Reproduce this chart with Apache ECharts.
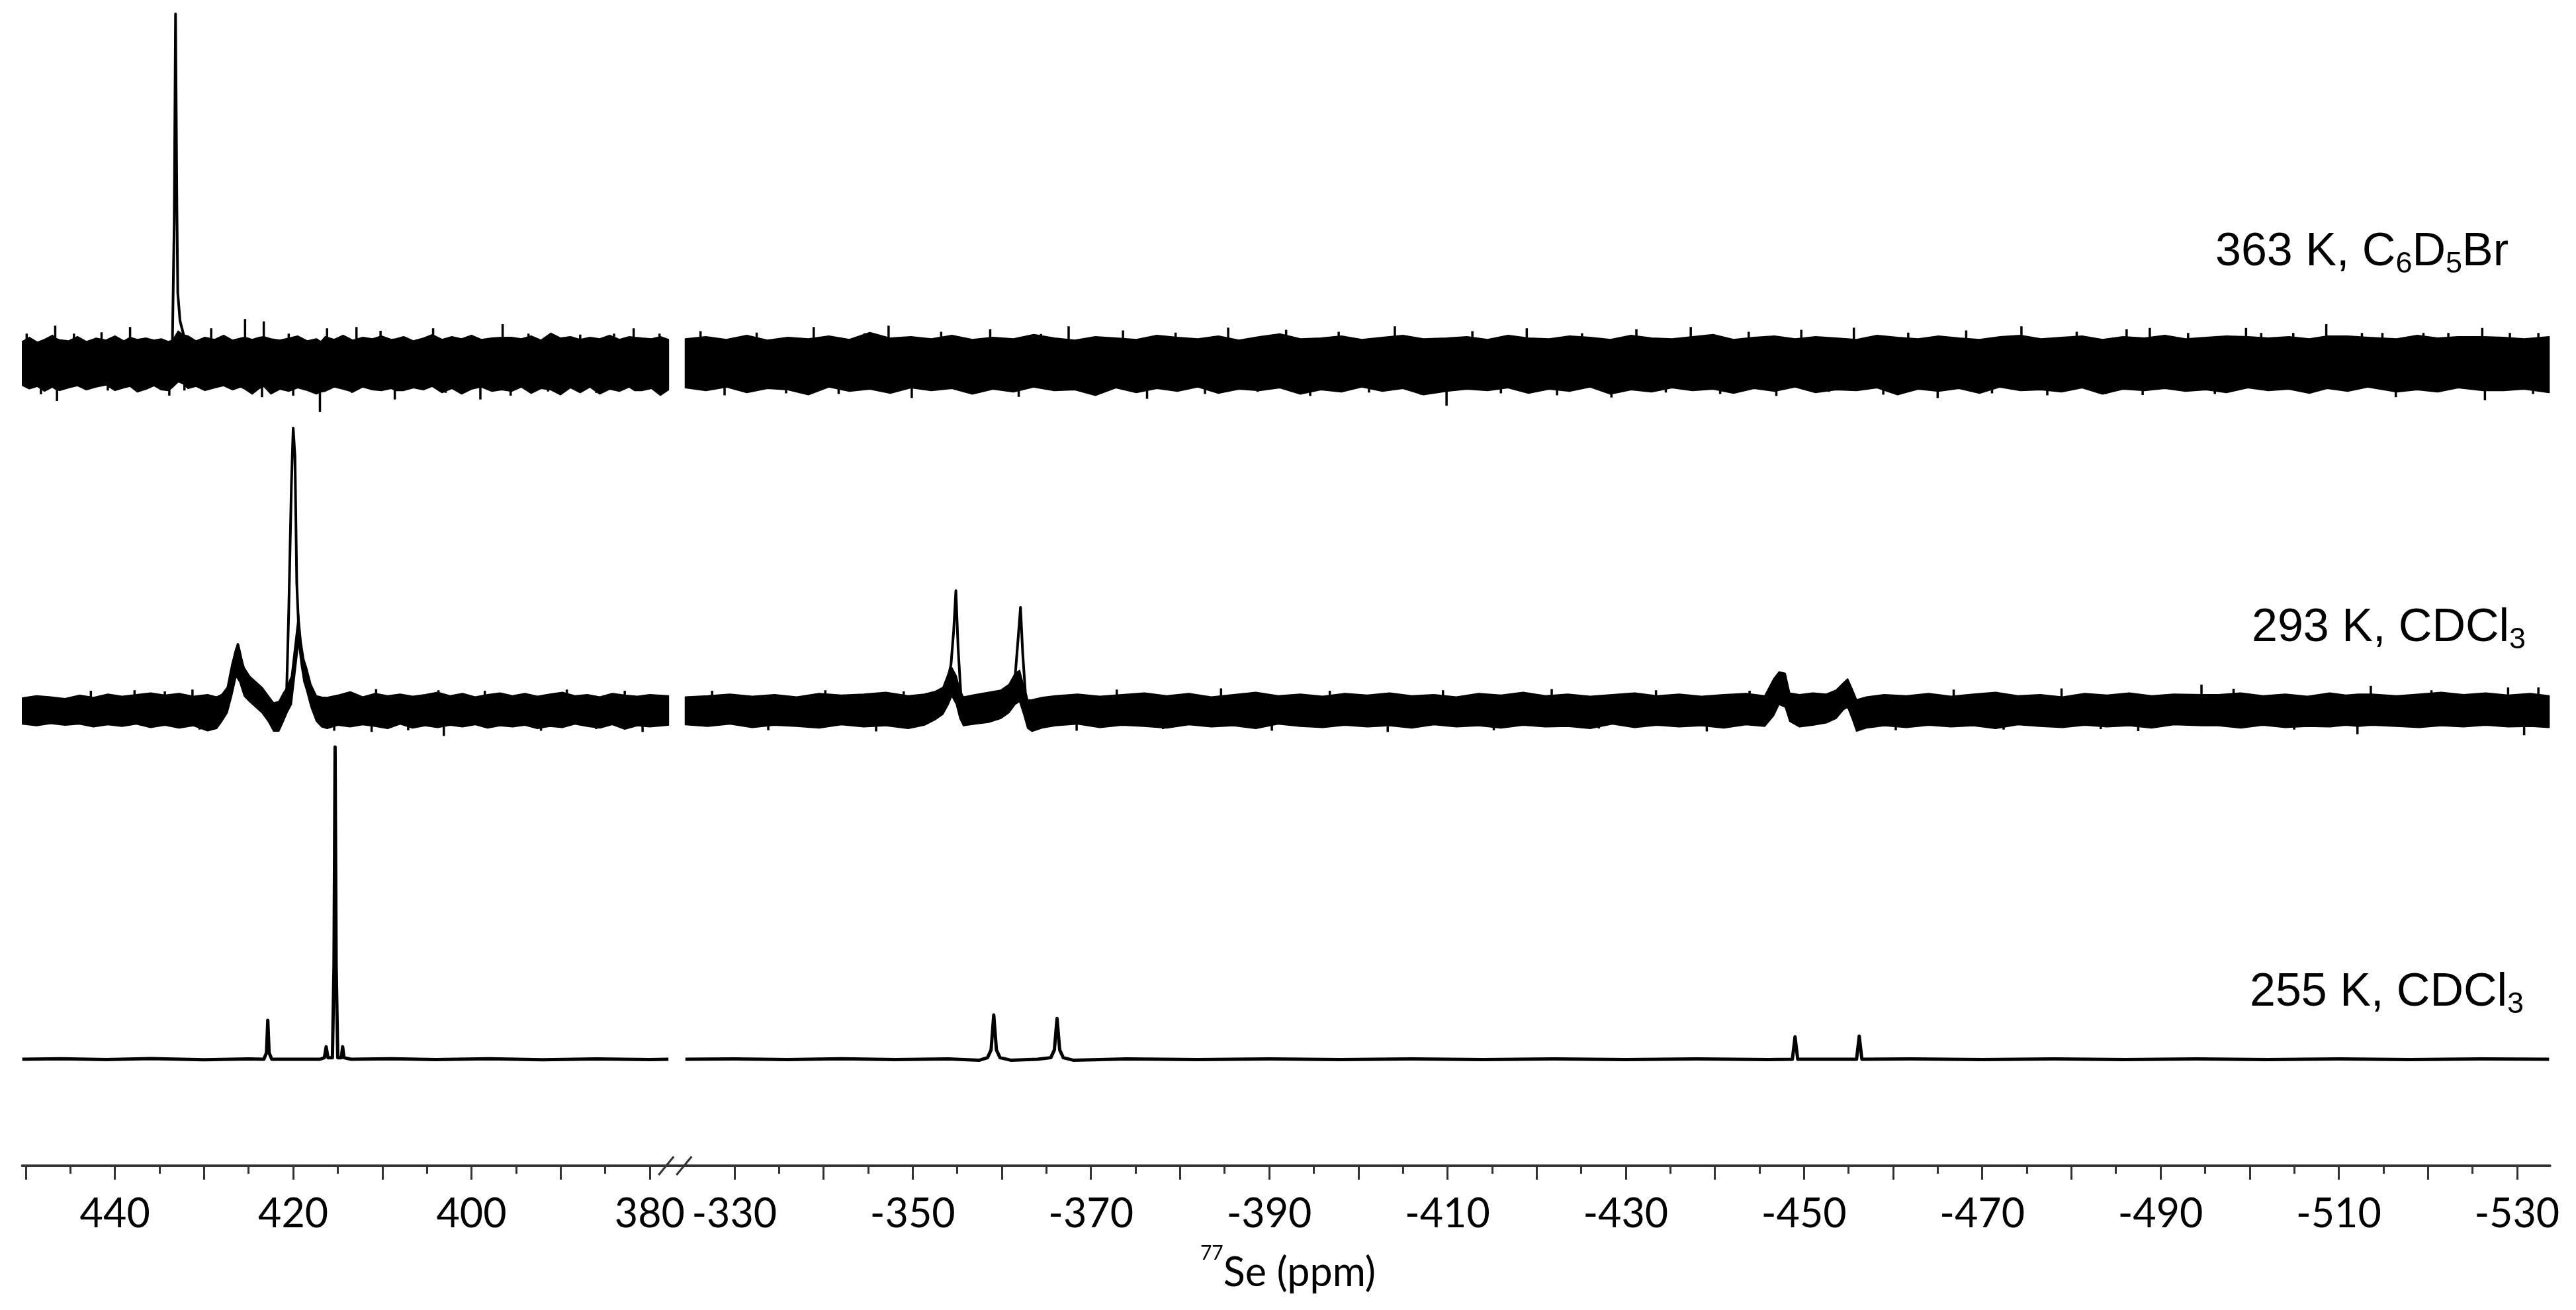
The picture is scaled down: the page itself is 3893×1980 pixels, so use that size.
<!DOCTYPE html>
<html>
<head>
<meta charset="utf-8">
<script src="https://cdn.jsdelivr.net/npm/echarts@6/dist/echarts.min.js"></script>
<style>
html,body{margin:0;padding:0;background:#fff;}
#c{width:3893px;height:1980px;}
</style>
</head>
<body>
<div id="c"></div>
<script>
// ---------------- DATA ----------------
// x axis (ppm), broken axis: left segment and right segment
const leftAxisRange = [377, 450.4];
const rightAxisRange = [-533.7, -323.5];
const leftTickLabels = [440, 420, 400, 380];
const rightTickLabels = [-330, -350, -370, -390, -410, -430, -450, -470, -490, -510, -530];
const leftMajorTicks = [450, 440, 430, 420, 410, 400, 390, 380];
const leftMinorTicks = [445, 435, 425, 415, 405, 395, 385];
const rightMajorTicks = [-330, -340, -350, -360, -370, -380, -390, -400, -410, -420, -430, -440, -450, -460, -470, -480, -490, -500, -510, -520, -530];
const rightMinorTicks = [-335, -345, -355, -365, -375, -385, -395, -405, -415, -425, -435, -445, -455, -465, -475, -485, -495, -505, -515, -525];

const spectrumLabels = ['363 K, C6D5Br', '293 K, CDCl3', '255 K, CDCl3'];
const axisTitle = '77Se (ppm)';

// Signal traces [ppm, intensity] (intensity: tallest peak of each spectrum = 100)
const topLeftSignal = [[450.4,0],[434.0,0],[433.55,6],[433.35,40],[433.2,100],[433.05,45],[432.95,20],[432.7,12],[432.3,8],[431.8,3],[431.2,0],[377.9,0]];
const topRightSignal = [[-324.5,0],[-533.6,0]];

const midLeftSignal = [[450.4,0],[428.6,0],[428.0,2],[427.4,5],[426.9,12],[426.5,20],[426.2,23.2],[425.9,19],[425.4,12],[424.9,9],[424.2,7],[423.5,4],[422.8,1],[422.2,-2],[421.6,-1.5],[421.1,2],[420.75,5],[420.5,35],[420.2,80],[420.0,100],[419.8,90],[419.6,45],[419.4,30],[419.1,20],[418.5,12],[418.0,5],[417.4,1],[416.8,0],[377.9,0]];
const midRightSignal = [[-324.5,0],[-351.3,0],[-353.0,3],[-353.8,9],[-354.3,16],[-354.6,28],[-354.85,42.3],[-355.1,22],[-355.4,6],[-355.8,0],[-358.0,1],[-360.0,4.5],[-361.0,7.5],[-361.5,12],[-361.85,26],[-362.1,36.4],[-362.35,20],[-362.65,6],[-363.2,-1.5],[-365.0,0],[-446.3,0],[-446.8,5],[-447.2,8.5],[-447.9,8.2],[-448.3,2],[-448.8,0],[-452.5,0],[-453.5,2],[-454.3,4.5],[-454.8,6.6],[-455.1,5],[-455.5,0],[-533.6,0]];

const botLeftSignal = [[450.4,0],[446,0.15],[441,-0.1],[436,0.2],[430,-0.15],[425,0.1],[423.3,0],[423.0,2],[422.85,12.5],[422.7,2],[422.4,0],[417.0,0],[416.5,0.5],[416.3,4],[416.1,0.5],[415.6,0.5],[415.42,30],[415.3,100],[415.18,30],[415.0,0.5],[414.6,0.5],[414.45,4],[414.3,0.5],[413.5,0],[409,0.15],[404,-0.1],[398,0.15],[392,-0.15],[386,0.1],[380,-0.1],[377.9,0]];
const botRightSignal = [[-324.5,0],[-330,0.1],[-336,-0.1],[-342,0.15],[-348,-0.1],[-354,0.1],[-357.5,-0.3],[-358.4,0.5],[-358.8,3],[-359.1,14.2],[-359.4,3],[-359.8,0.5],[-361,-0.3],[-364,0],[-365.5,0.5],[-365.9,3],[-366.2,13.1],[-366.5,3],[-366.9,0.5],[-368,-0.3],[-374,0.1],[-382,-0.1],[-390,0.1],[-398,-0.1],[-406,0.1],[-414,-0.1],[-422,0.1],[-430,-0.1],[-438,0.1],[-446,-0.1],[-448.7,0],[-449.0,7.2],[-449.3,0],[-455.9,0],[-456.2,7.4],[-456.5,0],[-462,0.1],[-470,-0.1],[-478,0.1],[-486,-0.1],[-494,0.1],[-502,-0.1],[-510,0.1],[-518,-0.1],[-526,0.1],[-533.6,0]];

// Noise envelopes [ppm, lower, upper]
const topLeftNoise = [[450.4,-6.5,6.0],[449.6,-7.5,7.2],[448.7,-6.8,5.8],[447.9,-8.2,6.6],[447.0,-7.0,7.8],[446.7,-7.6,7.0],[446.2,-8.0,6.5],[445.2,-7.2,6.2],[444.2,-6.6,7.4],[443.2,-7.8,6.0],[442.1,-7.0,7.0],[441.0,-6.4,6.4],[440.0,-8.0,7.6],[439.0,-7.2,6.2],[438.3,-6.8,7.2],[437.5,-8.4,6.6],[436.5,-7.6,7.0],[435.6,-6.6,6.4],[434.8,-7.8,6.8],[434.0,-8.0,6.0],[433.5,-7.0,6.5],[432.9,-5.5,9.0],[432.4,-6.0,8.0],[431.8,-7.4,7.6],[430.9,-6.8,6.2],[429.9,-8.0,7.2],[428.8,-7.2,6.6],[427.8,-6.6,7.8],[426.8,-7.8,6.4],[425.9,-7.0,7.0],[425.4,-7.6,7.2],[424.6,-9.0,6.6],[423.8,-7.4,7.2],[423.3,-6.8,7.4],[422.5,-9.0,6.8],[421.5,-7.6,6.4],[420.5,-8.2,7.0],[419.5,-7.2,7.6],[418.4,-8.0,6.2],[417.4,-9.0,6.8],[416.9,-8.4,6.0],[416.4,-8.2,7.4],[415.4,-7.0,6.6],[414.4,-7.6,7.8],[413.3,-8.4,6.4],[412.2,-7.0,7.2],[411.1,-7.8,6.8],[410.1,-8.0,7.6],[409.0,-7.4,6.6],[408.5,-8.0,6.8],[407.6,-8.0,7.4],[406.5,-7.2,6.2],[405.4,-7.8,7.0],[404.4,-6.8,8.0],[403.3,-8.6,6.6],[402.2,-7.4,7.4],[401.1,-9.0,6.8],[400.0,-7.6,7.8],[398.9,-7.0,6.6],[397.7,-8.2,7.0],[396.6,-7.8,7.2],[395.5,-8.2,7.2],[394.4,-7.0,6.8],[393.3,-8.8,7.6],[392.2,-7.4,6.4],[391.1,-7.8,8.4],[390.0,-9.2,7.0],[388.9,-7.2,7.4],[387.8,-8.6,6.6],[386.7,-7.0,7.2],[385.6,-9.0,6.8],[384.5,-7.6,7.8],[383.4,-8.2,6.6],[382.3,-7.0,7.4],[381.7,-8.0,7.2],[380.9,-8.0,7.0],[379.8,-7.4,6.8],[378.8,-9.4,7.4],[377.9,-7.8,6.6]];
const topRightNoise = [[-324.5,-7.2,6.8],[-326.8,-8.0,7.4],[-329.1,-7.0,6.6],[-331.4,-8.6,7.8],[-333.7,-7.4,6.4],[-336.0,-7.8,7.2],[-338.3,-9.2,6.8],[-340.6,-7.0,7.6],[-342.9,-8.2,6.6],[-345.2,-7.6,8.6],[-347.5,-8.8,7.0],[-349.8,-7.2,7.4],[-352.1,-8.0,6.8],[-354.4,-7.4,7.8],[-356.7,-9.0,6.6],[-359.0,-7.6,7.2],[-361.3,-8.4,6.8],[-363.6,-7.0,8.0],[-365.9,-8.0,7.0],[-368.2,-7.8,6.4],[-370.5,-9.4,7.4],[-372.8,-7.2,7.0],[-375.1,-8.6,6.6],[-377.4,-7.4,7.8],[-379.7,-8.2,7.2],[-382.0,-7.0,6.8],[-384.3,-8.8,7.6],[-386.6,-7.6,6.4],[-388.9,-8.0,7.4],[-391.2,-7.2,8.2],[-393.5,-9.0,6.8],[-395.8,-7.8,7.0],[-398.1,-8.4,7.6],[-400.4,-7.0,6.6],[-402.7,-8.2,7.2],[-405.0,-7.4,7.8],[-407.3,-9.2,6.8],[-409.9,-8.2,7.0],[-412.2,-7.6,7.4],[-414.5,-8.0,6.6],[-416.8,-7.2,7.8],[-419.1,-8.8,7.0],[-421.4,-7.6,6.8],[-423.7,-8.2,7.6],[-426.0,-7.0,7.2],[-428.3,-9.0,6.6],[-430.6,-7.8,7.8],[-432.9,-8.4,7.0],[-435.2,-7.2,6.8],[-437.5,-8.0,7.4],[-439.8,-7.6,8.0],[-442.1,-8.8,6.6],[-444.4,-7.4,7.2],[-446.7,-8.2,7.6],[-449.0,-7.0,6.8],[-451.3,-8.6,7.4],[-453.6,-7.8,7.0],[-455.9,-8.0,6.6],[-458.2,-7.2,7.8],[-460.5,-9.2,7.2],[-462.8,-7.6,6.8],[-465.1,-8.2,7.6],[-467.4,-7.4,7.0],[-469.7,-8.8,6.6],[-472.0,-7.0,7.4],[-474.3,-8.0,7.8],[-476.6,-7.8,6.8],[-478.9,-8.4,7.2],[-481.2,-7.2,7.6],[-483.5,-9.0,6.6],[-485.8,-7.6,7.4],[-488.2,-8.0,7.0],[-490.5,-7.4,7.8],[-492.8,-8.2,6.8],[-495.1,-7.8,7.2],[-497.4,-8.6,7.6],[-499.8,-7.2,7.4],[-502.1,-8.0,7.0],[-504.4,-7.6,7.4],[-506.7,-8.8,6.8],[-508.7,-7.4,7.6],[-511.0,-8.2,7.6],[-513.3,-7.0,7.2],[-516.5,-8.4,6.8],[-518.8,-7.8,7.8],[-521.1,-8.4,7.0],[-523.4,-7.2,7.4],[-526.2,-8.0,7.4],[-528.5,-8.0,7.2],[-530.8,-7.6,6.8],[-533.6,-8.6,7.4]];

const midLeftNoise = [[450.4,-5.0,4.2],[448.8,-5.6,5.0],[447.2,-4.8,4.6],[445.6,-5.4,4.0],[444.0,-5.0,5.2],[442.4,-6.0,4.4],[440.8,-5.2,5.6],[439.2,-5.8,4.8],[437.6,-5.0,5.4],[436.0,-6.2,6.0],[434.4,-5.4,5.2],[432.8,-6.4,5.8],[431.2,-5.6,4.8],[429.6,-7.4,5.4],[428.6,-6.6,4.6],[428.0,-4.0,5.5],[427.4,-1.0,8.0],[426.9,5.0,16.0],[426.4,12.0,22.0],[426.0,10.0,20.0],[425.5,5.0,15.0],[424.9,3.0,12.0],[424.2,1.0,10.0],[423.5,-1.0,8.0],[422.8,-4.0,5.0],[422.2,-7.5,2.5],[421.6,-7.5,3.0],[421.1,-4.0,6.0],[420.7,-1.0,8.0],[420.2,2.0,12.0],[419.4,24.0,34.0],[419.1,16.0,24.0],[418.8,10.0,18.0],[418.5,7.0,15.0],[418.0,1.0,9.0],[417.4,-4.0,5.0],[416.8,-6.0,4.5],[416.2,-6.6,4.4],[415.0,-5.4,5.2],[413.6,-6.0,6.4],[412.2,-5.2,4.6],[410.8,-5.8,5.8],[409.4,-6.6,5.0],[408.0,-5.0,5.6],[406.6,-6.4,4.8],[405.2,-5.6,5.4],[403.8,-6.2,6.2],[402.4,-5.4,5.0],[401.0,-6.0,5.8],[399.6,-5.2,4.6],[398.2,-6.4,5.4],[396.8,-5.6,6.0],[395.4,-6.0,5.0],[394.0,-5.4,5.8],[392.6,-6.6,4.8],[391.2,-5.8,5.6],[389.8,-6.2,6.2],[388.4,-5.0,5.0],[387.0,-5.8,5.4],[385.6,-6.4,4.6],[384.2,-5.2,5.8],[382.8,-6.8,5.2],[381.4,-5.6,4.8],[380.0,-6.0,5.4],[377.9,-5.4,5.0]];
const midRightNoise = [[-324.5,-5.2,4.6],[-327.0,-5.8,5.0],[-329.5,-5.0,5.6],[-332.0,-6.2,4.8],[-334.5,-5.4,5.4],[-337.0,-5.8,4.6],[-339.5,-6.4,5.8],[-342.0,-5.2,5.2],[-344.5,-6.0,5.6],[-347.0,-5.6,6.2],[-349.5,-6.6,5.0],[-351.3,-5.4,5.6],[-352.5,-3.5,6.5],[-353.4,-1.5,8.0],[-354.0,2.0,13.0],[-354.4,5.0,15.0],[-354.9,2.0,12.0],[-355.3,-3.0,7.0],[-355.7,-5.6,4.6],[-357.0,-5.0,5.4],[-358.5,-4.4,6.2],[-359.9,-3.0,7.0],[-360.8,-1.0,9.0],[-361.5,2.0,13.0],[-362.0,3.0,14.0],[-362.5,-2.0,8.0],[-362.9,-6.5,3.5],[-363.4,-7.6,3.6],[-364.5,-6.4,4.4],[-366.0,-5.6,5.0],[-368.5,-5.0,5.6],[-371.0,-6.2,4.8],[-373.5,-5.4,5.4],[-376.0,-5.8,6.0],[-378.5,-6.4,5.0],[-381.0,-5.2,5.8],[-383.5,-6.0,4.6],[-386.0,-5.6,5.4],[-388.5,-6.6,6.2],[-391.0,-5.0,5.0],[-393.5,-5.8,5.6],[-396.0,-6.2,4.8],[-398.5,-5.4,5.8],[-401.0,-6.0,5.2],[-403.5,-5.6,6.0],[-406.0,-6.4,5.0],[-408.5,-5.2,5.4],[-411.0,-6.0,4.6],[-413.5,-5.6,5.8],[-416.0,-6.4,5.2],[-418.5,-5.4,6.2],[-421.0,-6.0,5.0],[-423.5,-5.8,5.6],[-426.0,-6.6,4.8],[-428.5,-5.0,5.4],[-431.0,-6.2,6.0],[-433.5,-5.4,5.0],[-436.0,-6.0,5.6],[-438.5,-5.6,4.8],[-441.0,-6.4,5.4],[-443.5,-5.2,5.8],[-445.6,-5.8,5.0],[-446.6,-2.0,11.0],[-447.2,2.0,13.5],[-447.9,1.0,13.0],[-448.4,-4.0,6.0],[-449.5,-6.0,5.4],[-451.0,-5.4,6.0],[-452.5,-4.6,5.6],[-453.6,-3.0,7.0],[-454.4,0.0,9.5],[-454.9,1.0,11.0],[-455.4,-3.0,7.5],[-455.9,-7.5,3.6],[-457.0,-6.4,4.6],[-459.0,-5.6,5.4],[-461.5,-6.2,5.0],[-464.0,-5.4,5.8],[-466.5,-6.0,4.8],[-469.0,-5.6,5.6],[-471.5,-6.6,6.2],[-474.0,-5.2,5.0],[-476.5,-5.8,5.4],[-479.0,-6.2,4.6],[-481.5,-5.4,5.8],[-484.0,-6.0,5.2],[-486.5,-5.6,6.0],[-489.0,-6.4,5.0],[-491.5,-5.2,5.6],[-494.7,-5.6,5.4],[-496.5,-5.6,5.4],[-499.0,-6.4,6.0],[-501.5,-5.4,5.0],[-504.0,-6.2,5.6],[-506.5,-5.8,4.8],[-509.0,-6.0,6.0],[-510.8,-5.4,5.2],[-512.2,-5.8,5.6],[-513.7,-5.4,5.6],[-516.5,-5.8,5.0],[-519.0,-6.2,5.6],[-521.5,-5.6,6.2],[-524.0,-6.0,5.4],[-526.5,-5.4,6.0],[-529.0,-6.0,5.2],[-531.5,-5.8,5.8],[-533.6,-6.2,5.0]];

// Individual noise spikes [ppm, tip]
const topLeftSpikes = [[449.9,8.3],[446.7,10.6],[444.6,8.3],[441.5,8.7],[438.3,10.2],[429.2,9.8],[425.4,12.5],[423.3,11.8],[420.5,8.3],[416.2,9.8],[412.9,10.2],[410.2,9.1],[404.3,9.8],[396.5,11],[393.6,8.3],[387.8,8],[384.0,8.3],[381.8,9.8],[378.9,8.3],
  [448.3,-9.1],[446.5,-11],[440.8,-8],[433.9,-9.5],[432.2,-8],[423.5,-9.9],[420.0,-9.5],[417.0,-14.2],[413.4,-8.7],[408.6,-10.6],[402.9,-8.7],[399.0,-10.6],[395.6,-9.5],[391.4,-8.3],[386.0,-8.7],[380.2,-7.6]];
const topRightSpikes = [[-326.2,9.0],[-328.9,-9.4],[-332.5,8.6],[-335.8,-8.8],[-338.9,10.2],[-341.7,-9.0],[-344.6,8.4],[-347.3,10.6],[-349.9,-10.2],[-353.2,8.8],[-356.1,-8.6],[-358.7,9.6],[-361.9,-9.8],[-364.4,8.2],[-367.5,10.4],[-370.2,-8.8],[-373.6,9.2],[-376.3,-10.4],[-379.5,8.6],[-382.8,-9.0],[-385.4,10.0],[-388.7,-8.4],[-391.9,9.4],[-394.6,-9.6],[-397.8,8.8],[-401.2,-8.6],[-404.1,10.4],[-407.0,-9.2],[-409.9,-12.4],[-412.8,9.0],[-416.0,-8.8],[-418.9,9.8],[-422.3,-9.4],[-425.1,8.4],[-428.4,-10.0],[-431.2,9.6],[-434.5,-8.6],[-437.3,10.2],[-440.6,-9.0],[-443.8,8.8],[-446.9,-9.6],[-449.7,9.4],[-452.8,-8.4],[-455.6,10.0],[-458.9,-9.2],[-461.7,8.6],[-465.0,-10.2],[-468.2,9.2],[-471.1,-8.8],[-474.4,10.4],[-477.3,-9.4],[-480.6,8.8],[-483.9,-9.0],[-486.2,9.6],[-488.0,-9.3],[-488.8,9.9],[-493.1,8.5],[-496.1,-9.0],[-499.6,9.9],[-501.3,8.5],[-504.9,8.5],[-506.2,-7.5],[-508.6,11.0],[-512.6,8.5],[-514.9,8.5],[-516.4,-9.9],[-519.5,8.5],[-522.3,8.5],[-526.1,9.9],[-526.4,-10.8],[-529.2,8.5],[-531.8,-9.0],[-532.4,8.5]];
const midLeftSpikes = [[442.7,6.8],[437.8,7.0],[434.4,6.6],[431.3,7.2],[430.5,-7.0],[415.4,-7.4],[411.2,-7.8],[410.7,7.4],[407.1,-7.2],[403.7,7.0],[403.1,-9.2],[398.5,6.8],[392.2,-7.4],[389.3,7.2],[386.0,-6.8],[382.8,6.8],[380.8,-7.8]];
const midRightSpikes = [[-327.5,6.8],[-333.8,-7.2],[-340.2,7.0],[-345.9,-7.6],[-349.0,6.6],[-368.4,-7.4],[-372.9,7.2],[-378.1,-6.8],[-384.6,7.6],[-390.3,-7.4],[-396.8,6.8],[-403.3,-7.8],[-409.5,7.0],[-415.2,-7.2],[-421.7,7.4],[-427.0,-6.6],[-433.4,7.0],[-439.1,-7.6],[-443.9,6.8],[-460.3,-7.2],[-466.8,7.2],[-472.4,-7.0],[-478.9,7.6],[-483.3,-6.8],[-487.5,-7.5],[-494.6,9.0],[-498.2,7.5],[-505.0,-7.0],[-512.1,-8.6],[-513.6,8.5],[-520.4,7.0],[-529.0,8.0],[-530.8,-9.0],[-532.4,8.0]];

// ---------------- LAYOUT ----------------
const PX_PER_PPM = 13.47;
const AXIS_Y = 1762;
const LEFT_X0 = 33.6;
const leftW = (leftAxisRange[1] - leftAxisRange[0]) * PX_PER_PPM;
const rightX0 = LEFT_X0 + leftW;
const rightW = (rightAxisRange[1] - rightAxisRange[0]) * PX_PER_PPM;
const rows = [
  {base: 548, ppu: 5.27, ymin: -20, ymax: 103},
  {base: 1073, ppu: 4.26, ymin: -20, ymax: 103},
  {base: 1601, ppu: 4.72, ymin: null, ymax: 103}
];
rows[2].ymin = -(AXIS_Y - rows[2].base) / rows[2].ppu;

const signals = [[topLeftSignal, topRightSignal],[midLeftSignal, midRightSignal],[botLeftSignal, botRightSignal]];
const noises = [[topLeftNoise, topRightNoise],[midLeftNoise, midRightNoise],[null, null]];
const spikes = [[topLeftSpikes, topRightSpikes],[midLeftSpikes, midRightSpikes],[null, null]];

const grids = [], xAxes = [], yAxes = [], series = [];
const FONT_TICK = 'Lato';
function addGrid(r, s, axisMode) {
  const row = rows[r];
  const idx = grids.length;
  grids.push({
    left: s === 0 ? LEFT_X0 : rightX0,
    width: s === 0 ? leftW : rightW,
    top: row.base - row.ymax * row.ppu,
    height: (row.ymax - row.ymin) * row.ppu,
    containLabel: false,
    outerBoundsMode: 'none'
  });
  const range = s === 0 ? leftAxisRange : rightAxisRange;
  const xa = {type: 'value', gridIndex: idx, min: range[0], max: range[1], inverse: true, splitLine: {show: false}};
  if (axisMode === 'major') {
    Object.assign(xa, {
      show: true,
      axisLine: {show: true, onZero: false, lineStyle: {color: '#333', width: 4}},
      axisTick: {show: true, length: 21, customValues: s === 0 ? leftMajorTicks : rightMajorTicks, lineStyle: {color: '#333', width: 3}},
      axisLabel: {show: true, customValues: s === 0 ? leftTickLabels : rightTickLabels, margin: 43, color: '#000', fontFamily: FONT_TICK, fontSize: 61}
    });
  } else if (axisMode === 'minor') {
    Object.assign(xa, {
      show: true,
      axisLine: {show: false, onZero: false},
      axisTick: {show: true, length: 12, customValues: s === 0 ? leftMinorTicks : rightMinorTicks, lineStyle: {color: '#333', width: 3}},
      axisLabel: {show: false}
    });
  } else {
    xa.show = false;
  }
  xAxes.push(xa);
  yAxes.push({type: 'value', gridIndex: idx, min: row.ymin, max: row.ymax, show: false, splitLine: {show: false}});
  return idx;
}

// noise band drawn as one polygon through the library's coordinate system
function bandRenderItem(arr) {
  return function (params, api) {
    if (params.dataIndex !== 0) return null;
    const pts = [];
    for (let i = 0; i < arr.length; i++) pts.push(api.coord([arr[i][0], arr[i][2]]));
    for (let i = arr.length - 1; i >= 0; i--) pts.push(api.coord([arr[i][0], arr[i][1]]));
    return {type: 'polygon', shape: {points: pts}, style: {fill: '#000', stroke: '#000', lineWidth: 2, lineJoin: 'round'}};
  };
}
function spikeRenderItem(params, api) {
  const p0 = api.coord([api.value(0), 0]);
  const p1 = api.coord([api.value(0), api.value(1)]);
  return {type: 'line', shape: {x1: p0[0], y1: p0[1], x2: p1[0], y2: p1[1]}, style: {stroke: '#000', lineWidth: 3.5}};
}

for (let r = 0; r < 3; r++) {
  for (let s = 0; s < 2; s++) {
    const g = addGrid(r, s, r === 2 ? 'major' : 'none');
    const nz = noises[r][s];
    if (nz) {
      series.push({
        type: 'custom', xAxisIndex: g, yAxisIndex: g, data: nz, silent: true, clip: true,
        encode: {x: 0, y: [1, 2]}, renderItem: bandRenderItem(nz), z: 2
      });
    }
    const sp = spikes[r][s];
    if (sp) {
      series.push({
        type: 'custom', xAxisIndex: g, yAxisIndex: g, data: sp, silent: true, clip: true,
        encode: {x: 0, y: 1}, renderItem: spikeRenderItem, z: 2
      });
    }
    series.push({
      type: 'line', xAxisIndex: g, yAxisIndex: g, data: signals[r][s], symbol: 'none', silent: true,
      lineStyle: {width: r === 2 ? 5 : 4, color: '#000', join: 'round'}, z: 3
    });
  }
}
addGrid(2, 0, 'minor');
addGrid(2, 1, 'minor');

function chemRich(label) {
  const parts = label.split(', ');
  let out = '{n|' + parts[0] + ', }';
  const f = parts[1];
  let buf = '';
  for (let i = 0; i < f.length; i++) {
    const ch = f[i];
    if (/[0-9]/.test(ch)) {
      if (buf) { out += '{n|' + buf + '}'; buf = ''; }
      out += '{s|' + ch + '}';
    } else buf += ch;
  }
  if (buf) out += '{n|' + buf + '}';
  return out;
}
const labelPos = [[3348, 387], [3403, 955], [3400, 1506]];
const graphic = [];
spectrumLabels.forEach((t, i) => {
  graphic.push({
    type: 'text', left: labelPos[i][0], top: labelPos[i][1] - 40, z: 10,
    style: {
      text: chemRich(t),
      rich: {
        n: {fontFamily: 'Liberation Sans', fontSize: 70, lineHeight: 80, fill: '#000', verticalAlign: 'middle'},
        s: {fontFamily: 'Liberation Sans', fontSize: 45, lineHeight: 50, fill: '#000', verticalAlign: 'bottom'}
      }
    }
  });
});
graphic.push({
  type: 'text', left: 'center', top: 1924 - 45, z: 10,
  style: {
    text: '{sup|' + axisTitle.slice(0, 2) + '}{n|' + axisTitle.slice(2) + '}',
    rich: {
      sup: {fontFamily: FONT_TICK, fontSize: 30, lineHeight: 30, verticalAlign: 'top', fill: '#000'},
      n: {fontFamily: FONT_TICK, fontSize: 61, lineHeight: 90, fill: '#000'}
    }
  }
});
const bx = rightX0;
[[-27, -4], [0, 23]].forEach(d => {
  graphic.push({type: 'line', z: 10, shape: {x1: bx + d[0], y1: AXIS_Y + 14, x2: bx + d[1], y2: AXIS_Y - 14}, style: {stroke: '#333', lineWidth: 3}});
});

const chart = echarts.init(document.getElementById('c'), null, {renderer: 'canvas', width: 3893, height: 1980});
chart.setOption({
  animation: false,
  backgroundColor: '#fff',
  grid: grids,
  xAxis: xAxes,
  yAxis: yAxes,
  series: series,
  graphic: graphic
});
</script>
</body>
</html>
